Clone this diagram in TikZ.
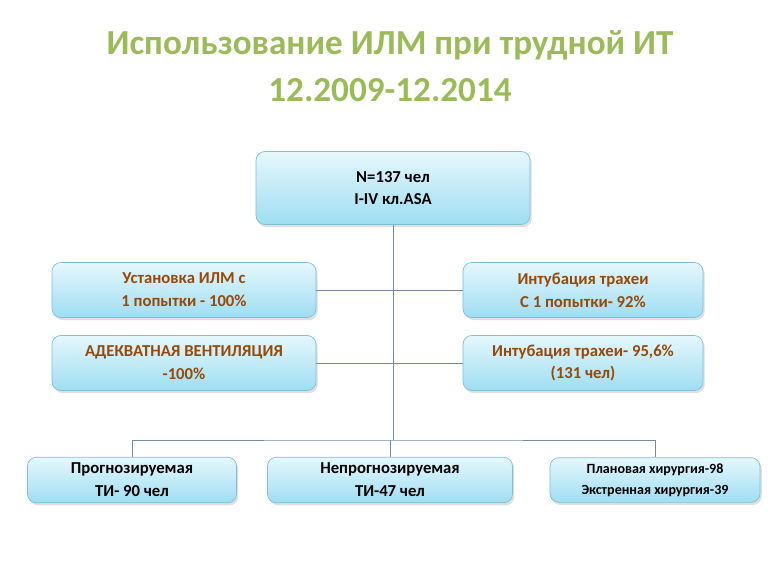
\documentclass[tikz,border=0pt]{standalone}
\usepackage{fontspec}
\setmainfont{Carlito}
\usetikzlibrary{shadows}
\definecolor{titlegreen}{rgb}{0.608, 0.733, 0.349}
\definecolor{boxbrown}{rgb}{0.596, 0.282, 0.027}
\definecolor{boxedge}{rgb}{0.49, 0.75, 0.85}
\definecolor{boxtop}{rgb}{0.90, 0.97, 0.99}
\definecolor{boxbot}{rgb}{0.62, 0.87, 0.95}
\definecolor{linkgrey}{rgb}{0.45, 0.55, 0.65}
\tikzset{
  box/.style = {draw = boxedge, rounded corners = 5pt, top color = boxtop,
    bottom color = boxbot, align = center, font = \bfseries\fontsize{9.5}{13}\selectfont,
    drop shadow = {opacity = 0.25, shadow xshift = 1pt, shadow yshift = -1.5pt}},
  link/.style = {draw = linkgrey, line width = 0.5pt}
}
\begin{document}
\begin{tikzpicture}[x = 0.02cm, y = -0.02cm]
        \useasboundingbox (0, 0) rectangle (780, 585);
        \node[text = titlegreen, font = \bfseries\fontsize{20}{27}\selectfont, align = center] (title) at (390, 66)
          {Использование ИЛМ при трудной ИТ\\12.2009-12.2014};
        \node[box, minimum width = 5.48cm, minimum height = 1.46cm] (top) at (393, 188) {N=137 чел\\I-IV кл.ASA};
        \node[box, text = boxbrown, minimum width = 5.28cm, minimum height = 1.1cm] (l1) at (184, 290) {Установка ИЛМ с\\1 попытки - 100\%};
        \node[box, text = boxbrown, minimum width = 4.8cm, minimum height = 1.1cm] (r1) at (583, 290) {Интубация трахеи\\С 1 попытки- 92\%};
        \node[box, text = boxbrown, minimum width = 5.28cm, minimum height = 1.1cm] (l2) at (184, 363) {АДЕКВАТНАЯ ВЕНТИЛЯЦИЯ\\-100\%};
        \node[box, text = boxbrown, minimum width = 4.8cm, minimum height = 1.1cm] (r2) at (583, 363) {Интубация трахеи- 95,6\%\\(131 чел)};
        \node[box, minimum width = 4.18cm, minimum height = 0.88cm] (b1) at (132, 480) {Прогнозируемая\\ТИ- 90 чел};
        \node[box, minimum width = 4.9cm, minimum height = 0.88cm] (b2) at (390, 480) {Непрогнозируемая\\ТИ-47 чел};
        \node[box, minimum width = 4.2cm, minimum height = 0.88cm, font = \bfseries\fontsize{8}{12}\selectfont] (b3) at (655, 480) {Плановая хирургия-98\\Экстренная хирургия-39};
        \coordinate (bus) at (393, 440);
        \draw[link] (top.south) -- (bus);
        \draw[link] (l1.east) -- (r1.west);
        \draw[link] (l2.east) -- (r2.west);
        \draw[link] (b1.north) |- (bus) -| (b3.north);
        \draw[link] (b2.north |- bus) -- (b2.north);
      \end{tikzpicture}
\end{document}
